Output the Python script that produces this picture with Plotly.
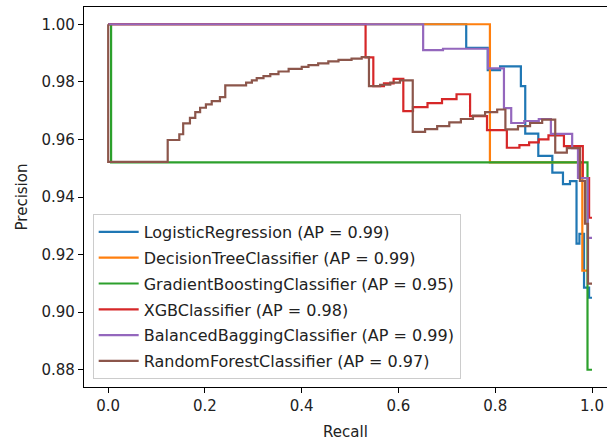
import plotly.graph_objects as go

names = ["LogisticRegression (AP = 0.99)", "DecisionTreeClassifier (AP = 0.99)",
         "GradientBoostingClassifier (AP = 0.95)", "XGBClassifier (AP = 0.98)",
         "BalancedBaggingClassifier (AP = 0.99)", "RandomForestClassifier (AP = 0.97)"]
colors = ["#1f77b4", "#ff7f0e", "#2ca02c", "#d62728", "#9467bd", "#8c564b"]

recall_lr = [0, 0.740, 0.7845, 0.810, 0.853, 0.862, 0.889, 0.918, 0.940, 0.9545, 0.968, 0.974, 0.9835, 0.994, 1.0]
prec_lr = [1.0, 1.0, 0.9918, 0.9841, 0.9854, 0.9785, 0.9620, 0.9543, 0.9485, 0.9445, 0.9455, 0.9238, 0.9272, 0.9085, 0.905]

recall_dt = [0, 0.789, 0.980, 0.990]
prec_dt = [1.0, 1.0, 0.952, 0.9144]

recall_gb = [0, 0.006, 0.9907, 1.0]
prec_gb = [1.0, 1.0, 0.952, 0.880]

recall_xgb = [0, 0.532, 0.548, 0.570, 0.590, 0.610, 0.630, 0.660, 0.690, 0.720, 0.748, 0.783, 0.824,
              0.850, 0.870, 0.890, 0.910, 0.942, 0.981, 0.994, 1.0]
prec_xgb = [1.0, 1.0, 0.9885, 0.9785, 0.9795, 0.9810, 0.9698, 0.9712, 0.9726, 0.9740, 0.9757, 0.9681, 0.9632,
            0.9571, 0.9580, 0.9590, 0.9600, 0.9614, 0.9577, 0.9466, 0.9328]

recall_bb = [0, 0.651, 0.692, 0.785, 0.818, 0.833, 0.860, 0.890, 0.915, 0.959, 0.971, 0.991, 1.0]
prec_bb = [1.0, 1.0, 0.9910, 0.9915, 0.9847, 0.9709, 0.9657, 0.9664, 0.9671, 0.9619, 0.9570, 0.9466, 0.9258]

recall_rf = [0, 0.123, 0.147, 0.155, 0.169, 0.180, 0.190, 0.202, 0.214, 0.231, 0.242, 0.285, 0.297, 0.307,
             0.321, 0.335, 0.352, 0.373, 0.400, 0.414, 0.434, 0.455, 0.476, 0.503, 0.524, 0.539, 0.562,
             0.583, 0.603, 0.6295, 0.655, 0.680, 0.705, 0.729, 0.754, 0.779, 0.804, 0.821, 0.847, 0.872,
             0.897, 0.924, 0.948, 0.975, 0.9855, 0.9917, 1.0]
prec_rf = [1.0, 0.9522, 0.9598, 0.9618, 0.9656, 0.9675, 0.9695, 0.9710, 0.9722, 0.9733, 0.9747, 0.9788,
           0.9797, 0.9805, 0.9813, 0.9820, 0.9827, 0.9836, 0.9845, 0.9852, 0.9858, 0.9864, 0.9871, 0.9876,
           0.9881, 0.9886, 0.9785, 0.9790, 0.9797, 0.9805, 0.9626, 0.9636, 0.9646, 0.9659, 0.9671, 0.9683,
           0.9695, 0.9704, 0.9635, 0.9646, 0.9657, 0.9669, 0.9554, 0.9570, 0.9456, 0.9307, 0.9099]

x_ticks = [0.0, 0.2, 0.4, 0.6, 0.8, 1.0]
y_ticks = [0.88, 0.90, 0.92, 0.94, 0.96, 0.98, 1.00]

series = [(recall_lr, prec_lr), (recall_dt, prec_dt), (recall_gb, prec_gb),
          (recall_xgb, prec_xgb), (recall_bb, prec_bb), (recall_rf, prec_rf)]

font_family = "DejaVu Sans"
txt = "#222222"

fig = go.Figure()
for i, ((r, p), nm, c) in enumerate(zip(series, names, colors)):
    fig.add_trace(go.Scatter(x=r, y=p, mode="lines", name=nm, legendgroup=str(i),
                             line=dict(color=c, width=2.2, shape="vh")))

fig.update_layout(
    width=607, height=447,
    margin=dict(l=84, r=0, t=7, b=60),
    paper_bgcolor="white", plot_bgcolor="white",
    font=dict(family=font_family, size=15, color=txt),
    showlegend=True,
    legend=dict(x=0.0166, y=0.021, xanchor="left", yanchor="bottom",
                bgcolor="rgba(255,255,255,0.8)", bordercolor="#cccccc", borderwidth=1,
                font=dict(family=font_family, size=16, color=txt),
                traceorder="grouped", tracegroupgap=2, itemwidth=40),
)
fig.update_xaxes(range=[-0.05, 1.031], tickvals=x_ticks, ticktext=[f"{v:.1f}" for v in x_ticks],
                 showline=True, linecolor="black", linewidth=1.2, mirror=True,
                 ticks="outside", ticklen=5, tickwidth=1.2, tickcolor="black",
                 showgrid=False, zeroline=False, automargin=False,
                 title=dict(text="Recall", standoff=12, font=dict(size=15)))
fig.update_yaxes(range=[0.874, 1.006], tickvals=y_ticks, ticktext=[f"{v:.2f}" for v in y_ticks],
                 showline=True, linecolor="black", linewidth=1.2,
                 ticks="outside", ticklen=5, tickwidth=1.2, tickcolor="black",
                 showgrid=False, zeroline=False, automargin=False,
                 title=dict(text="Precision", standoff=10, font=dict(size=15)))

fig.write_html("out.html", config={"displayModeBar": False},
               post_script="document.body.style.margin='0';document.body.style.padding='0';")
